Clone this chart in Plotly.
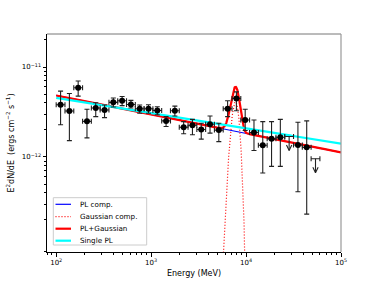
import numpy as np
import plotly.graph_objects as go

# ---------------- data ----------------
# bin centre energies (MeV)
energy = [111.2, 137.7, 170.4, 210.9, 261.0, 323.0, 399.8, 494.8, 612.4, 757.9,
          938.0, 1161, 1437, 1778, 2201, 2724, 3371, 4172, 5164, 6391,
          7909, 9789, 12115, 14993, 18556, 22965, 28423, 35177, 43536, 53881]
bin_half_width_dex = 0.0463

# E^2 dN/dE in units of 1e-12 erg cm^-2 s^-1
flux = [3.81, 3.24, 5.89, 2.49, 3.50, 3.33, 4.05, 4.22, 3.83, 3.44,
        3.44, 3.29, 2.52, 3.26, 2.14, 2.25, 2.02, 2.31, 1.99, 3.44,
        4.48, 2.58, 1.87, 1.35, 1.59, 1.66, 1.69, 1.36, 1.28, 0.957]
flux_hi = [5.40, 5.08, 7.00, 3.39, 4.01, 3.78, 4.52, 4.71, 4.26, 3.78,
           3.81, 3.62, 2.81, 3.68, 2.47, 2.62, 2.37, 2.86, 2.37, 4.22,
           5.30, 3.39, 2.58, 2.47, 2.47, 2.62, None, 2.43, 2.52, None]
flux_lo = [2.28, 1.52, 4.75, 1.63, 2.81, 2.74, 3.59, 3.72, 3.50, 3.06,
           3.06, 2.95, 2.18, 2.86, 1.81, 1.77, 1.58, 1.84, 1.48, 2.81,
           3.27, 1.97, 1.18, 0.665, 0.787, 0.787, None, 0.411, 0.232, None]
upper_limit = [False] * 26 + [True, False, False, True]
unit = 1e-12

# model parameters
pl_norm_100MeV = 4.83e-12      # PL component, E^2dN/dE at 100 MeV
pl_index = 2.211
single_norm_100MeV = 4.55e-12  # single power law
single_index = 2.170
gauss_peak = 4.1e-12           # Gaussian component (E^2dN/dE peak)
gauss_center = 7750.0          # MeV
gauss_sigma = 710.0            # MeV

x_ticks = [1e2, 1e3, 1e4, 1e5]
x_ticktext = ["10<sup>2</sup>", "10<sup>3</sup>", "10<sup>4</sup>", "10<sup>5</sup>"]
y_ticks = [1e-12, 1e-11]
y_ticktext = ["10<sup>\u221212</sup>", "10<sup>\u221211</sup>"]

legend_labels = ["PL comp.", "Gaussian comp.", "PL+Gaussian", "Single PL"]

# ---------------- derived ----------------
E = np.array(energy, dtype=float)
F = np.array(flux) * unit
isul = np.array(upper_limit)
hw = 10 ** bin_half_width_dex
ex_plus = E * hw - E
ex_minus = E - E / hw

det = ~isul
hi = np.array([v if v is not None else np.nan for v in flux_hi]) * unit
lo = np.array([v if v is not None else np.nan for v in flux_lo]) * unit

Egrid = np.logspace(2, 5, 1500)
pl = pl_norm_100MeV * (Egrid / 100.0) ** (2 - pl_index)
single = single_norm_100MeV * (Egrid / 100.0) ** (2 - single_index)
gauss = gauss_peak * np.exp(-0.5 * ((Egrid - gauss_center) / gauss_sigma) ** 2)
total = pl + gauss
gmask = np.abs(Egrid - gauss_center) < 5 * gauss_sigma

fig = go.Figure()

blue, red, cyan = "#0000ff", "#ff0000", "#00ffff"

fig.add_trace(go.Scatter(x=Egrid, y=pl, mode="lines", line=dict(color=blue, width=1.2),
                         name=legend_labels[0], showlegend=False, hoverinfo="skip"))
fig.add_trace(go.Scatter(x=Egrid[gmask], y=gauss[gmask], mode="lines",
                         line=dict(color=red, width=1.2, dash="1px,2px"),
                         name=legend_labels[1], showlegend=False, hoverinfo="skip"))
fig.add_trace(go.Scatter(x=Egrid, y=total, mode="lines", line=dict(color=red, width=2.2),
                         name=legend_labels[2], showlegend=False, hoverinfo="skip"))
fig.add_trace(go.Scatter(x=Egrid, y=single, mode="lines", line=dict(color=cyan, width=2.2),
                         name=legend_labels[3], showlegend=False, hoverinfo="skip"))

# detected points
fig.add_trace(go.Scatter(
    x=E[det], y=F[det], mode="markers",
    marker=dict(color="black", size=6, symbol="circle"),
    error_y=dict(type="data", symmetric=False, array=(hi - F)[det], arrayminus=(F - lo)[det],
                 color="#222", thickness=1.1, width=2.5),
    error_x=dict(type="data", symmetric=False, array=ex_plus[det], arrayminus=ex_minus[det],
                 color="#222", thickness=1.1, width=2.5),
    showlegend=False, hoverinfo="skip"))

# upper limits: horizontal bar + downward arrow
arrow_len_dex = 0.155
head_dex_y = 0.06
head_dex_x = 0.028
fig.add_trace(go.Scatter(
    x=E[isul], y=F[isul], mode="markers", marker=dict(size=1, color="rgba(0,0,0,0)"),
    error_x=dict(type="data", symmetric=False, array=ex_plus[isul], arrayminus=ex_minus[isul],
                 color="#222", thickness=1.1, width=2.5),
    showlegend=False, hoverinfo="skip"))
for e, f in zip(E[isul], F[isul]):
    tip = f * 10 ** (-arrow_len_dex)
    fig.add_trace(go.Scatter(x=[e, e], y=[f, tip], mode="lines",
                             line=dict(color="#222", width=1.1), showlegend=False, hoverinfo="skip"))
    fig.add_trace(go.Scatter(x=[e * 10 ** (-head_dex_x), e, e * 10 ** head_dex_x],
                             y=[tip * 10 ** head_dex_y, tip, tip * 10 ** head_dex_y],
                             mode="lines", line=dict(color="#222", width=1.1),
                             showlegend=False, hoverinfo="skip"))

# ---------------- layout ----------------
L, R, T, B = 47, 38, 34, 32
W, H = 379, 284
pw, ph = W - L - R, H - T - B

def minor_vals(lo_exp, hi_exp):
    out = []
    for d in range(lo_exp, hi_exp + 1):
        for m in range(2, 10):
            out.append(m * 10.0 ** d)
    return out

xr = [np.log10(80), 5]
yr = [-13.056, -10.633]
font = "DejaVu Sans"
fig.update_layout(
    width=W, height=H, margin=dict(l=L, r=R, t=T, b=B, autoexpand=False),
    paper_bgcolor="white", plot_bgcolor="white",
    font=dict(family=font, size=7, color="black"),
    xaxis=dict(type="log", range=xr, showgrid=False, zeroline=False,
               tickmode="array", tickvals=x_ticks, ticktext=x_ticktext,
               ticks="outside", ticklen=3.5, tickwidth=0.8, tickcolor="black",
               showline=True, linecolor="black", linewidth=1, mirror=False,
               tickfont=dict(size=7, family=font),
               title=dict(text="Energy (MeV)", font=dict(size=8, family=font), standoff=4)),
    yaxis=dict(type="log", range=yr, showgrid=False, zeroline=False,
               tickmode="array", tickvals=y_ticks, ticktext=y_ticktext,
               ticks="outside", ticklen=3.5, tickwidth=0.8, tickcolor="black",
               showline=True, linecolor="black", linewidth=1, mirror=False,
               tickfont=dict(size=7, family=font),
               title=dict(text="E<sup>2</sup>dN/dE  (ergs cm<sup>\u22122</sup> s<sup>\u22121</sup>)",
                          font=dict(size=8, family=font), standoff=6)),
    # overlay axes used only for the unlabeled minor ticks
    xaxis2=dict(type="log", range=xr, overlaying="x", anchor="y", side="bottom",
                showgrid=False, zeroline=False, showticklabels=False,
                tickmode="array", tickvals=minor_vals(1, 4), ticks="outside",
                ticklen=2, tickwidth=0.6, tickcolor="black", showline=False),
    yaxis2=dict(type="log", range=yr, overlaying="y", anchor="x", side="left",
                showgrid=False, zeroline=False, showticklabels=False,
                tickmode="array", tickvals=minor_vals(-14, -11), ticks="outside",
                ticklen=2, tickwidth=0.6, tickcolor="black", showline=False),
)
# invisible trace so the overlay axes are drawn
fig.add_trace(go.Scatter(x=[1e3], y=[1e-12], xaxis="x2", yaxis="y2", mode="markers",
                         marker=dict(size=1, color="rgba(0,0,0,0)"),
                         showlegend=False, hoverinfo="skip"))

# top and right spines
fig.add_shape(type="line", xref="paper", yref="paper", x0=0, x1=1, y0=1, y1=1,
              line=dict(color="#777", width=1))
fig.add_shape(type="line", xref="paper", yref="paper", x0=1, x1=1, y0=0, y1=1,
              line=dict(color="#999", width=1.2))

# manual legend
def px_x(px):
    return (px - L) / pw

def px_y(py):
    return (H - B - py) / ph

fig.add_shape(type="rect", xref="paper", yref="paper",
              x0=px_x(53.3), x1=px_x(146.7), y0=px_y(245), y1=px_y(197.7),
              line=dict(color="#cccccc", width=1), fillcolor="rgba(255,255,255,0.8)")
styles = [dict(color=blue, width=1.2), dict(color=red, width=1.2, dash="1px,2px"),
          dict(color=red, width=2.2), dict(color=cyan, width=2.2)]
rows = [204.3, 216.7, 228.7, 240.7]
for lab, st, ry in zip(legend_labels, styles, rows):
    fig.add_shape(type="line", xref="paper", yref="paper",
                  x0=px_x(55.5), x1=px_x(71), y0=px_y(ry), y1=px_y(ry), line=st)
    fig.add_annotation(xref="paper", yref="paper", x=px_x(77.5), y=px_y(ry),
                       text=lab, showarrow=False, xanchor="left", yanchor="middle",
                       font=dict(size=7.2, family=font, color="black"))

fig.write_html("out.html", config={"displayModeBar": False},
               post_script="document.body.style.margin='0';")
